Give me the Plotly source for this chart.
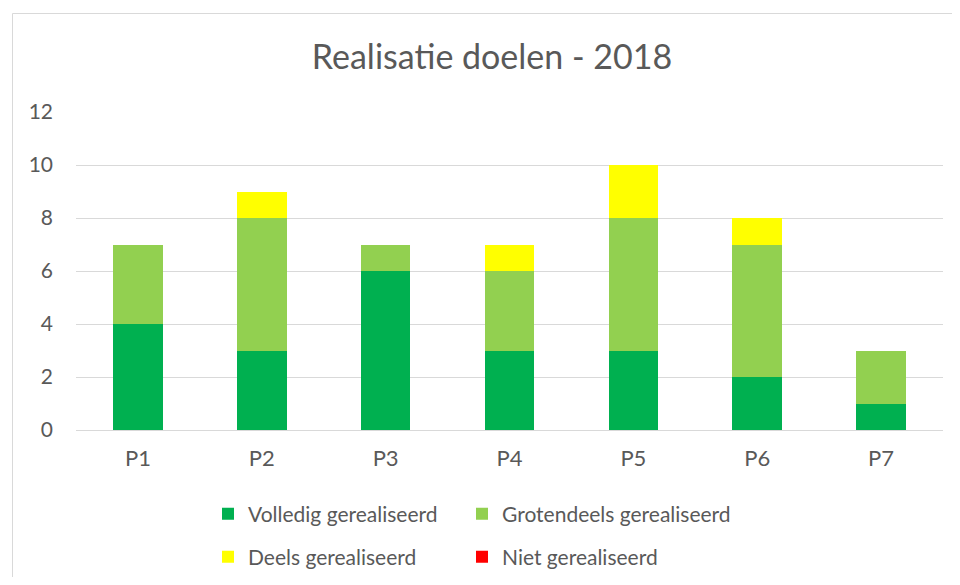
import plotly.graph_objects as go

categories = ["P1", "P2", "P3", "P4", "P5", "P6", "P7"]
volledig = [4, 3, 6, 3, 3, 2, 1]
grotendeels = [3, 5, 1, 3, 5, 5, 2]
deels = [0, 1, 0, 1, 2, 1, 0]
niet = [0, 0, 0, 0, 0, 0, 0]
y_ticks = [0, 2, 4, 6, 8, 10, 12]

series_names = ["Volledig gerealiseerd", "Grotendeels gerealiseerd",
                "Deels gerealiseerd", "Niet gerealiseerd"]
series_values = [volledig, grotendeels, deels, niet]
series_colors = ["#00B050", "#92D050", "#FFFF00", "#FF0000"]

FONT = "Lato"
TXT = "#595959"
GRID = "#D9D9D9"

# page body has an 8px margin; figure coordinates = screen - 8
OFF = 8
W, H = 960 - 2 * OFF, 585 - 2 * OFF
L, T = 76 - OFF, 112 - OFF
R = W - (943 - OFF)
B = H - (430 - OFF)
pw, ph = W - L - R, H - T - B

def px_x(p):
    return (p - OFF - L) / pw

def px_y(p):
    return (H - B - (p - OFF)) / ph

# legend entry positions (screen px: left of entry, row centre)
legend_pos = [(208, 514), (462, 514), (208, 557), (462, 557)]
legend_keys = ["legend", "legend2", "legend3", "legend4"]

fig = go.Figure()
for name, vals, color, lg in zip(series_names, series_values, series_colors, legend_keys):
    fig.add_trace(go.Bar(x=categories, y=vals, name=name, marker_color=color,
                         marker_line_width=0, legend=lg))

legends = {}
for key, (lx, ly) in zip(legend_keys, legend_pos):
    legends[key] = dict(orientation="h", x=px_x(lx), y=px_y(ly),
                        font=dict(family=FONT, size=21, color=TXT),
                        bgcolor="rgba(0,0,0,0)", xanchor="left", yanchor="middle",
                        itemclick=False, itemdoubleclick=False)

fig.update_layout(
    width=W, height=H,
    margin=dict(l=L, r=R, t=T, b=B, autoexpand=False),
    barmode="stack", bargap=0.6,
    paper_bgcolor="white", plot_bgcolor="white",
    font=dict(family=FONT, color=TXT),
    title=dict(text="Realisatie doelen - 2018", x=(492 - OFF) / W, xanchor="center",
               y=1 - (57 - OFF) / H, yanchor="middle",
               font=dict(family=FONT, size=34, color=TXT)),
    xaxis=dict(showgrid=False, showline=False, zeroline=False, ticks="",
               tickfont=dict(family=FONT, size=22, color=TXT), ticklabelstandoff=13),
    yaxis=dict(range=[0, 12], tickvals=y_ticks, showgrid=True, gridcolor=GRID,
               gridwidth=1, zeroline=True, zerolinecolor=GRID, zerolinewidth=1,
               showline=False, ticks="",
               tickfont=dict(family=FONT, size=21, color=TXT), ticklabelstandoff=22),
    showlegend=True,
    shapes=[dict(type="rect", xref="paper", yref="paper",
                 x0=px_x(12.5), x1=px_x(990), y0=px_y(620), y1=px_y(13.5),
                 line=dict(color=GRID, width=1), fillcolor="rgba(0,0,0,0)", layer="below")],
    **legends,
)

fig.write_html("out.html")
